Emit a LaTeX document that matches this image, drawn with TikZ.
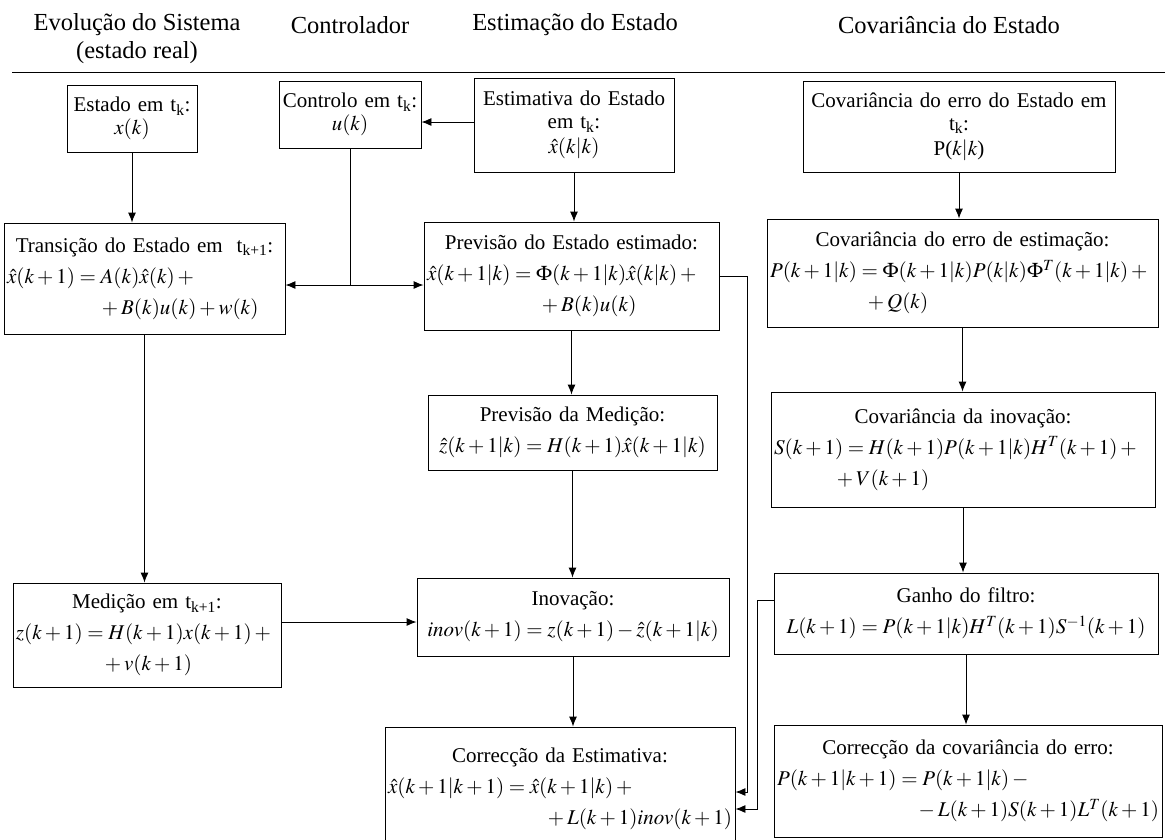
\documentclass[tikz,border=0pt]{standalone}
\usepackage{amsmath}
\usepackage{mathptmx}
\usepackage{fontspec}
\setmainfont{Liberation Serif}
\usetikzlibrary{arrows.meta}
\setlength{\parindent}{0pt}
\setlength{\parskip}{0pt}
\newcommand{\hd}[2][0pt]{\vspace{#1}{\centering\mbox{#2}\par}}
\newcommand{\eqln}[2][0pt]{\vspace{8pt}\hspace*{#1}\mbox{#2}\par}
\newcommand{\eqrt}[1]{\vspace{8pt}{\raggedleft\mbox{#1}\par}}
\newcommand{\tk}[1]{t\textsubscript{#1}}

\begin{document}
\begin{tikzpicture}[x=1pt, y=-1pt] %one unit = one pixel of the page
\tikzstyle{hdr} = [inner sep=0pt, font=\fontsize{24.5}{28}\selectfont]
\tikzstyle{box} = [draw, rectangle, line width=0.9pt, inner xsep=3pt, inner ysep=2pt, font=\fontsize{21}{23}\selectfont]
\tikzstyle{arr} = [-{Latex[length=10pt,width=8pt]}, line width=0.9pt]
\tikzstyle{arrs} = [{Latex[length=10pt,width=8pt]}-{Latex[length=10pt,width=8pt]}, line width=0.9pt]
\useasboundingbox (0,0) rectangle (1165,839);
\clip (0,0) rectangle (1165,839);

% column titles
\node[hdr, align=center] (h1) at (137,39) {Evolução do Sistema\\(estado real)};
\node[hdr] (h2) at (350,25) {Controlador};
\node[hdr] (h3) at (575,25) {Estimação do Estado};
\node[hdr] (h4) at (949,25) {Covariância do Estado};
\draw[line width=0.9pt] (12,72) -- (1165,72);

% first row, instant t_k
\node[box, text width=124pt, minimum height=67pt] (est) at (132,118.5) {\hd{Estado em \tk{k}:}\hd{$x(k)$}};
\node[box, text width=136pt, minimum height=67pt] (ctl) at (350,114.5) {\hd{Controlo em \tk{k}:}\hd{$u(k)$}};
\node[box, text width=194pt, minimum height=94pt] (estim) at (574,125) {\hd{Estimativa do Estado}\hd{em \tk{k}:}\hd[2pt]{$\hat{x}(k|k)$}};
\node[box, text width=306pt, minimum height=91pt] (covP) at (959,126.5) {\hd{Covariância do erro do Estado em}\hd{\tk{k}:}\hd[2pt]{P($k|k$)}};

% prediction
\node[box, text width=275pt, minimum height=111pt] (trans) at (144.5,278.5) {\hd{Transição do Estado em \ \tk{k+1}:}
  \eqln{$\hat{x}(k+1)=A(k)\hat{x}(k)+{}$}
  \eqln[92pt]{${}+B(k)u(k)+w(k)$}};
\node[box, text width=289pt, minimum height=108pt] (prevE) at (571.5,276) {\hd{Previsão do Estado estimado:}
  \eqln{$\hat{x}(k+1|k)=\Phi(k+1|k)\hat{x}(k|k)+{}$}
  \eqln[112pt]{${}+B(k)u(k)$}};
\node[box, text width=385pt, minimum height=108pt] (covE) at (962.5,273) {\hd{Covariância do erro de estimação:}
  \eqln{$P(k+1|k)=\Phi(k+1|k)P(k|k)\Phi^T(k+1|k)+{}$}
  \eqln[95pt]{${}+Q(k)$}};

\node[box, text width=283pt, minimum height=75pt] (prevM) at (572.5,432.5) {\hd{Previsão da Medição:}
  \hd[8pt]{$\hat{z}(k+1|k)=H(k+1)\hat{x}(k+1|k)$}};
\node[box, text width=378pt, minimum height=115pt] (covS) at (963,449.5) {\hd{Covariância da inovação:}
  \eqln{$S(k+1)=H(k+1)P(k+1|k)H^T(k+1)+{}$}
  \eqln[60pt]{${}+V(k+1)$}};

% measurement and gain
\node[box, text width=262pt, minimum height=104pt] (med) at (147,635) {\hd{Medição em \tk{k+1}:}
  \eqln{$z(k+1)=H(k+1)x(k+1)+{}$}
  \hd[8pt]{${}+v(k+1)$}};
\node[box, text width=306pt, minimum height=78pt] (inov) at (573,617) {\hd{Inovação:}
  \hd[8pt]{$inov(k+1)=z(k+1)-\hat{z}(k+1|k)$}};
\node[box, text width=378pt, minimum height=81pt] (ganho) at (966,613.5) {\hd{Ganho do filtro:}
  \hd[8pt]{$L(k+1)=P(k+1|k)H^T(k+1)S^{-1}(k+1)$}};

% correction
\node[box, text width=344pt, minimum height=123pt] (corrE) at (560,788.5) {\hd{Correcção da Estimativa:}
  \eqln{$\hat{x}(k+1|k+1)=\hat{x}(k+1|k)+{}$}
  \eqrt{${}+L(k+1)inov(k+1)$}\vspace*{12pt}};
\node[box, text width=382pt, minimum height=112pt] (corrP) at (968,781) {\hd{Correcção da covariância do erro:}
  \eqln{$P(k+1|k+1)=P(k+1|k)-{}$}
  \eqrt{${}-L(k+1)S(k+1)L^T(k+1)$}};

% connectors
\foreach \from/\to in {est/trans, trans/med, estim/prevE, prevE/prevM, prevM/inov, inov/corrE, covP/covE, covE/covS, covS/ganho, ganho/corrP}
  \draw[arr] (\from) -- (\from |- \to.north);
\coordinate (J) at (350,285);
\draw[line width=0.9pt] (ctl) -- (J);
\draw[arrs] (trans.east |- J) -- (prevE.west |- J);
\draw[arr] ([yshift=3pt]estim.west) -- ([yshift=3pt]estim.west -| ctl.east);
\draw[arr] ([yshift=-5pt]inov.west -| med.east) -- ([yshift=-5pt]inov.west);
\draw[arr] (prevE.east) -- ++(28,0) |- ([yshift=-3.5pt]corrE.east);
\draw[arr] ([yshift=13pt]ganho.west) -- ++(-16,0) |- ([yshift=-20.5pt]corrE.east);
\end{tikzpicture}
\end{document}
